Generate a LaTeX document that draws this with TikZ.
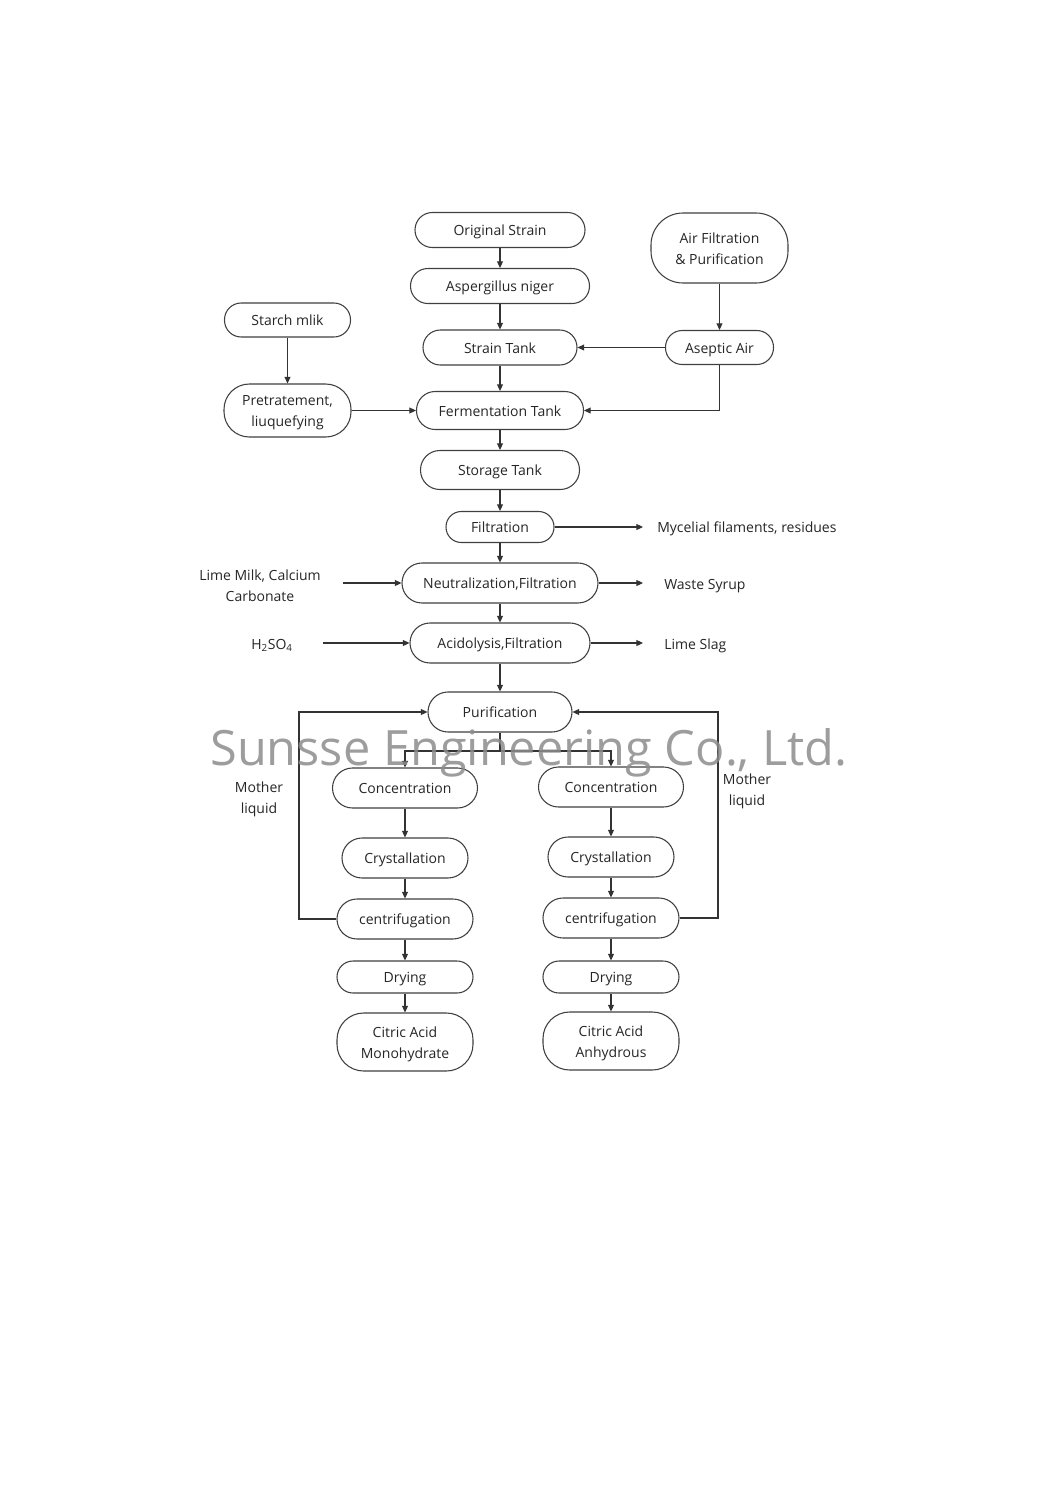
\documentclass[tikz,border=0pt]{standalone}
\usepackage{fontspec}
\setmainfont{Open Sans}
\usetikzlibrary{arrows.meta}
\begin{document}
\begin{tikzpicture}[x=0.75pt,y=-0.75pt,
  every node/.style={font=\fontsize{10.5}{15.5}\selectfont, text=black!85},
  box/.style={draw=black!75, line width=0.8pt, align=center, inner sep=0pt},
  one/.style={text height=9.5pt, text depth=1pt},
  two/.style={text height=25pt, text depth=1pt},
  lbl/.style={inner sep=0pt, align=center},
  arr/.style={draw=black!80, line width=0.8pt, -{Triangle[length=5pt,width=4.5pt]}},
  ln/.style={draw=black!80, line width=0.8pt}]
\useasboundingbox (0,0) rectangle (1060,1499);
\fill[white] (0,0) rectangle (1060,1499);

% main column
\node[box, one, minimum width=127.5pt, minimum height=26.25pt, rounded corners=13pt] (orig) at (500,230) {Original Strain};
\node[box, one, minimum width=134.25pt, minimum height=26.25pt, rounded corners=13pt] (asp) at (500,286) {Aspergillus niger};
\node[box, one, minimum width=115.5pt, minimum height=26.25pt, rounded corners=13pt] (strain) at (500,347.5) {Strain Tank};
\node[box, one, minimum width=125.25pt, minimum height=28.5pt, rounded corners=14pt] (ferm) at (500,410.5) {Fermentation Tank};
\node[box, one, minimum width=119.25pt, minimum height=29.25pt, rounded corners=14.5pt] (stor) at (500,470) {Storage Tank};
\node[box, one, minimum width=81pt, minimum height=23.25pt, rounded corners=11.5pt] (filt) at (500,527) {Filtration};
\node[box, one, minimum width=147pt, minimum height=30pt, rounded corners=15pt] (neut) at (500,583) {Neutralization,Filtration};
\node[box, one, minimum width=135pt, minimum height=30pt, rounded corners=15pt] (acid) at (500,643) {Acidolysis,Filtration};
\node[box, one, minimum width=108pt, minimum height=30pt, rounded corners=15pt] (pur) at (500,712) {Purification};

% air branch
\node[box, two, minimum width=102.75pt, minimum height=52.5pt, rounded corners=24pt] (air) at (719.5,248) {Air Filtration\\\&~Purification};
\node[box, one, minimum width=81pt, minimum height=25.5pt, rounded corners=12.5pt] (asep) at (719.5,347.5) {Aseptic Air};

% starch branch
\node[box, one, minimum width=94.5pt, minimum height=25.5pt, rounded corners=12.5pt] (starch) at (287.5,320) {Starch mlik};
\node[box, two, minimum width=95.25pt, minimum height=39.75pt, rounded corners=19pt] (pre) at (287.5,410.5) {Pretratement,\\liuquefying};

% side labels
\node[lbl, one, anchor=west] (myc) at (657,527) {Mycelial filaments, residues};
\node[lbl, one, anchor=west] (waste) at (664,584) {Waste Syrup};
\node[lbl, one, anchor=west] (slag) at (664,644) {Lime Slag};
\node[lbl, two] (lime) at (260,585) {Lime Milk, Calcium\\Carbonate};
\node[lbl, one] (h2so4) at (272,644) {H\textsubscript{2}SO\textsubscript{4}};
\coordinate (limeout) at (343,583);
\coordinate (h2out) at (323,643);
\coordinate (mycin) at (643,527);
\coordinate (wastein) at (643,583);
\coordinate (slagin) at (643,643);

% left product line
\node[box, one, minimum width=108.75pt, minimum height=30pt, rounded corners=15pt] (concL) at (405,788) {Concentration};
\node[box, one, minimum width=94.5pt, minimum height=30pt, rounded corners=15pt] (cryL) at (405,858) {Crystallation};
\node[box, one, minimum width=102pt, minimum height=30pt, rounded corners=15pt] (cenL) at (405,919) {centrifugation};
\node[box, one, minimum width=102pt, minimum height=24pt, rounded corners=12pt] (dryL) at (405,977) {Drying};
\node[box, two, minimum width=102pt, minimum height=43.5pt, rounded corners=20pt] (citL) at (405,1042) {Citric Acid\\Monohydrate};

% right product line
\node[box, one, minimum width=108.75pt, minimum height=30pt, rounded corners=15pt] (concR) at (611,787) {Concentration};
\node[box, one, minimum width=94.5pt, minimum height=30pt, rounded corners=15pt] (cryR) at (611,857) {Crystallation};
\node[box, one, minimum width=102pt, minimum height=30pt, rounded corners=15pt] (cenR) at (611,918) {centrifugation};
\node[box, one, minimum width=102pt, minimum height=24pt, rounded corners=12pt] (dryR) at (611,977) {Drying};
\node[box, two, minimum width=102pt, minimum height=43.5pt, rounded corners=20pt] (citR) at (611,1041) {Citric Acid\\Anhydrous};

\node[lbl, two] (mothL) at (259,797) {Mother\\liquid};
\node[lbl, two] (mothR) at (747,789) {Mother\\liquid};
\coordinate (split) at (500,751);
\coordinate (loopL) at (299,800);
\coordinate (loopR) at (718,800);

% connectors
\draw[arr] (orig) -- (asp);
\draw[arr] (asp) -- (strain);
\draw[arr] (strain) -- (ferm);
\draw[arr] (ferm) -- (stor);
\draw[arr] (stor) -- (filt);
\draw[arr] (filt) -- (neut);
\draw[arr] (neut) -- (acid);
\draw[arr] (acid) -- (pur);
\draw[arr] (air) -- (asep);
\draw[arr] (asep) -- (strain);
\draw[arr] (asep.south) |- (ferm.east);
\draw[arr] (starch) -- (pre);
\draw[arr] (pre) -- (ferm);
\draw[arr] (filt.east) -- (mycin);
\draw[arr] (neut.east) -- (wastein);
\draw[arr] (acid.east) -- (slagin);
\draw[arr] (limeout) -- (neut.west);
\draw[arr] (h2out) -- (acid.west);
\draw[ln] (pur.south) -- (split);
\draw[arr] (split) -| (concL.north);
\draw[arr] (split) -| (concR.north);
\draw[arr] (concL) -- (cryL);
\draw[arr] (cryL) -- (cenL);
\draw[arr] (cenL) -- (dryL);
\draw[arr] (dryL) -- (citL);
\draw[arr] (concR) -- (cryR);
\draw[arr] (cryR) -- (cenR);
\draw[arr] (cenR) -- (dryR);
\draw[arr] (dryR) -- (citR);
\draw[arr] (cenL.west) -| (loopL) |- (pur.west);
\draw[arr] (cenR.east) -| (loopR) |- (pur.east);

% watermark
\node[inner sep=0pt, text=black!45, opacity=0.85, font=\fontsize{36.5}{44}\selectfont] (wm) at (529,753) {Sunsse Engineering Co., Ltd.};
\end{tikzpicture}
\end{document}
